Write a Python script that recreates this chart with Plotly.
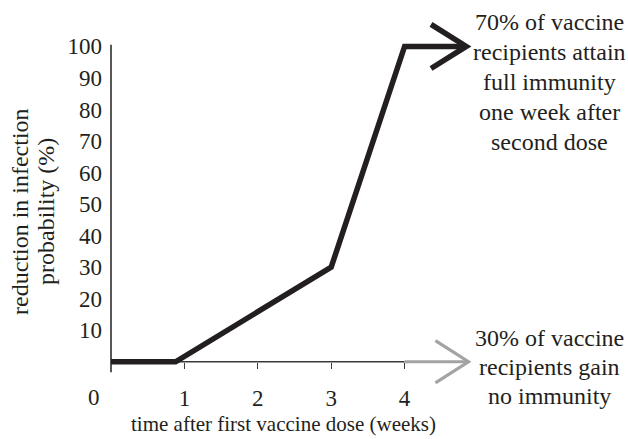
import plotly.graph_objects as go

# ---------------- data ----------------
weeks = [0, 0.88, 3, 4, 4.83]              # black curve (70% who attain immunity)
reduction = [0, 0, 30, 100, 100]
no_imm_weeks = [4, 4.87]                    # grey arrow (30% with no immunity)
no_imm_reduction = [0, 0]
x_tick_vals = [1, 2, 3, 4]
x_tick_text = ["1", "2", "3", "4"]
y_tick_vals = [10, 20, 30, 40, 50, 60, 70, 80, 90, 100]
y_tick_text = ["10", "20", "30", "40", "50", "60", "70", "80", "90", "100"]
top_note = ["70% of vaccine", "recipients attain", "full immunity", "one week after", "second dose"]
bottom_note = ["30% of vaccine", "recipients gain", "no immunity"]
x_title = "time after first vaccine dose (weeks)"
y_title_lines = ["reduction in infection", "probability (%)"]

# ---------------- layout geometry ----------------
W, H = 628, 439
ML, MR, MT, MB = 111, 150, 18, 52
PW, PH = W - ML - MR, H - MT - MB
XR = [0, 5]
YR = [-8, 109]
FONT = "Liberation Serif, Times New Roman, Times, serif"
INK = "#231f20"
GREY = "#a3a3a3"
FS = 23

def px_x(px):
    return (px - ML) / PW

def px_y(py):
    return (H - MB - py) / PH

def chevron(x_tip, y_tip, dx, dy):
    return [x_tip - dx, x_tip, x_tip - dx], [y_tip + dy, y_tip, y_tip - dy]

fig = go.Figure()

# grey arrow
fig.add_trace(go.Scatter(x=no_imm_weeks, y=no_imm_reduction, mode="lines",
                         line=dict(color=GREY, width=3.2), hoverinfo="skip", showlegend=False))
cx, cy = chevron(no_imm_weeks[-1], no_imm_reduction[-1], 0.45, 6.7)
fig.add_trace(go.Scatter(x=cx, y=cy, mode="lines",
                         line=dict(color=GREY, width=3.2), hoverinfo="skip", showlegend=False))

# black curve
fig.add_trace(go.Scatter(x=weeks, y=reduction, mode="lines",
                         line=dict(color=INK, width=5.5), hoverinfo="skip", showlegend=False))
cx, cy = chevron(weeks[-1] + 0.01, reduction[-1], 0.48, 7.0)
fig.add_trace(go.Scatter(x=cx, y=cy, mode="lines",
                         line=dict(color=INK, width=5.5), hoverinfo="skip", showlegend=False))

shapes = [
    # y-axis line (extends slightly below the x axis)
    dict(type="line", xref="paper", yref="y", x0=0, x1=0, y0=-3.3, y1=100.5,
         line=dict(color=INK, width=1.5), layer="below"),
    # x-axis line up to week 4
    dict(type="line", xref="x", yref="y", x0=0, x1=4, y0=0, y1=0,
         line=dict(color="#3a3a3a", width=1.5), layer="below"),
]

annotations = []
for i, t in enumerate(top_note):
    annotations.append(dict(text=t, xref="paper", yref="paper", x=px_x(549), y=px_y(22 + 30 * i),
                            xanchor="center", yanchor="middle", showarrow=False,
                            font=dict(family=FONT, size=24, color=INK)))
for i, t in enumerate(bottom_note):
    annotations.append(dict(text=t, xref="paper", yref="paper", x=px_x(549), y=px_y(338 + 29 * i),
                            xanchor="center", yanchor="middle", showarrow=False,
                            font=dict(family=FONT, size=24, color=INK)))
annotations.append(dict(text="0", xref="paper", yref="paper", x=px_x(94), y=px_y(397),
                        xanchor="center", yanchor="middle", showarrow=False,
                        font=dict(family=FONT, size=FS, color=INK)))
for i, t in enumerate(y_title_lines):
    annotations.append(dict(text=t, xref="paper", yref="paper", x=px_x(20 + 26 * i), y=px_y(212),
                            xanchor="center", yanchor="middle", showarrow=False, textangle=-90,
                            font=dict(family=FONT, size=24, color=INK)))
annotations.append(dict(text=x_title, xref="paper", yref="paper", x=px_x(283), y=px_y(424),
                        xanchor="center", yanchor="middle", showarrow=False,
                        font=dict(family=FONT, size=21, color=INK)))

fig.update_layout(
    width=W, height=H,
    margin=dict(l=ML, r=MR, t=MT, b=MB, autoexpand=False),
    paper_bgcolor="white", plot_bgcolor="white",
    font=dict(family=FONT, size=FS, color=INK),
    shapes=shapes, annotations=annotations,
    xaxis=dict(range=XR, showgrid=False, zeroline=False, showline=False,
               anchor="free", position=(0 - YR[0]) / (YR[1] - YR[0]),
               tickvals=x_tick_vals, ticktext=x_tick_text,
               ticks="outside", ticklen=6, tickwidth=1.3, tickcolor="#3a3a3a",
               ticklabelstandoff=10,
               fixedrange=True),
    yaxis=dict(range=YR, showgrid=False, zeroline=False, showline=False,
               tickvals=y_tick_vals, ticktext=y_tick_text, ticks="",
               ticklabelstandoff=8,
               fixedrange=True),
)

fig.write_html("out.html", config={"displayModeBar": False},
               post_script="document.body.style.margin='0';")
